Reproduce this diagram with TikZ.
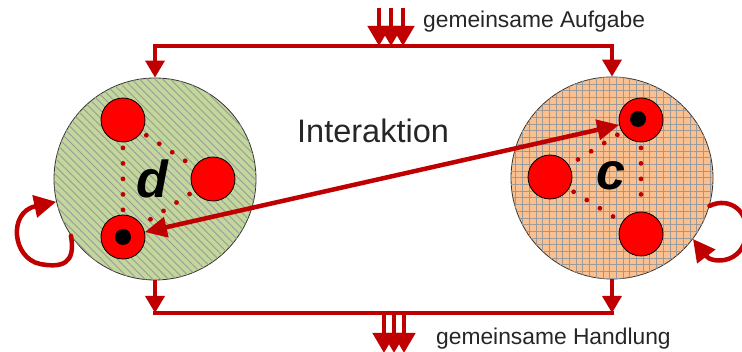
\documentclass[tikz,border=0pt]{standalone}
\usepackage{fontspec}
\setmainfont{Liberation Sans}
\usetikzlibrary{arrows.meta,patterns.meta,decorations.markings}
\definecolor{dred}{HTML}{C00000}
\definecolor{bred}{HTML}{FF0000}
\definecolor{olive}{HTML}{C3D69B}
\definecolor{peach}{HTML}{FAC090}
\definecolor{patgray}{HTML}{9A9A9A}
\tikzset{
  conn/.style={draw=dred,line width=3.5pt},
  head/.style={-{Triangle[width=19pt,length=17pt]}},
  tri/.style={draw=dred,line width=4.5pt,-{Triangle[width=22pt,length=20pt]}},
  big/.style={circle,draw=black!80,line width=0.8pt,minimum size=202pt,inner sep=0pt},
  small/.style={circle,draw=black,line width=0.8pt,fill=bred,minimum size=44pt,inner sep=0pt},
  blackdot/.style={circle,fill=black,minimum size=16pt,inner sep=0pt},
  dotline/.style={decoration={markings,mark=between positions 5.5pt and -4pt step 15.5pt with {\fill[dred] (0,0) circle (2.4pt);}},decorate},
  lbl/.style={font=\fontsize{22.8}{27}\selectfont,text=black!85,inner sep=0pt,anchor=west},
  letter/.style={font=\fontsize{52}{60}\selectfont\bfseries\itshape,inner sep=0pt}
}
\begin{document}
\begin{tikzpicture}[x=1pt,y=-1pt]
\useasboundingbox (0,0) rectangle (742,352);
% big circles
\node[big,fill=olive,postaction={pattern={Lines[angle=-45,distance=5.5pt,line width=0.9pt]},pattern color=patgray}] (D) at (155,179) {};
\node[big,fill=peach,postaction={pattern={Hatch[angle=0,distance=6.7pt,line width=0.9pt]},pattern color=patgray}] (C) at (612,178) {};
% small circles left
\node[small] (d1) at (123,120) {};
\node[small] (d2) at (213,179) {};
\node[small] (d3) at (123,237) {};
\node[blackdot] (d3b) at (123,237) {};
% small circles right
\node[small] (c1) at (641,120) {};
\node[small] (c2) at (550,177) {};
\node[small] (c3) at (641,234) {};
\node[blackdot] (c1b) at (638,119) {};
% dotted triangles
\path[dotline] (d1) -- (d3);
\path[dotline] (d1) -- (d2);
\path[dotline] (d2) -- (d3);
\path[dotline] (c1) -- (c3);
\path[dotline] (c1) -- (c2);
\path[dotline] (c2) -- (c3);
% letters
\node[letter] (dl) at (152,179) {d};
\node[letter] (cl) at (611,176) {c};
% interaction
\draw[dred,line width=4.5pt,{Triangle[width=20pt,length=22pt]}-{Triangle[width=20pt,length=22pt]}] (d3) -- (c1);
\node[font=\fontsize{32.5}{38}\selectfont,inner sep=0pt,anchor=west,text=black!85] (ia) at (297,131) {Interaktion};
% top frame
\coordinate (topL) at (D.north |- 0,46);
\coordinate (topR) at (C.north |- 0,46);
\draw[conn] ([xshift=-1.75pt]topL) -- ([xshift=1.75pt]topR);
\draw[conn,head] (topL) -- (D.north);
\draw[conn,head] (topR) -- (C.north);
% bottom frame
\coordinate (botL) at (D.south |- 0,313);
\coordinate (botR) at (C.south |- 0,313);
\draw[conn] ([xshift=-1.75pt]botL) -- ([xshift=1.75pt]botR);
\draw[conn,head] (D.south) -- (botL);
\draw[conn,head] (C.south) -- (botR);
% triple arrows top
\foreach \x [count=\i] in {379,391,403}{
  \coordinate (ts\i) at (\x,8);
  \coordinate (te\i) at (\x,46);
  \draw[tri] (ts\i) -- (te\i);
}
\node[lbl] (aufgabe) at (423,22) {gemeinsame Aufgabe};
% triple arrows bottom
\foreach \x [count=\i] in {384,394,404}{
  \coordinate (bs\i) at (\x,313);
  \coordinate (be\i) at (\x,353);
  \draw[tri] (bs\i) -- (be\i);
}
\node[lbl] (handlung) at (436,339) {gemeinsame Handlung};
% self loops
\draw[dred,line width=4.5pt,line cap=round,-{Triangle[width=22pt,length=22pt]}] (D.214) .. controls (76,264) and (62,268) .. (40,264) .. controls (12,258) and (8,212) .. (D.193);
\draw[dred,line width=4.5pt,line cap=round,-{Triangle[width=22pt,length=22pt]}] (C.-16) .. controls (730,196) and (750,212) .. (746,236) .. controls (742,264) and (712,264) .. (C.-37);
\end{tikzpicture}
\end{document}
